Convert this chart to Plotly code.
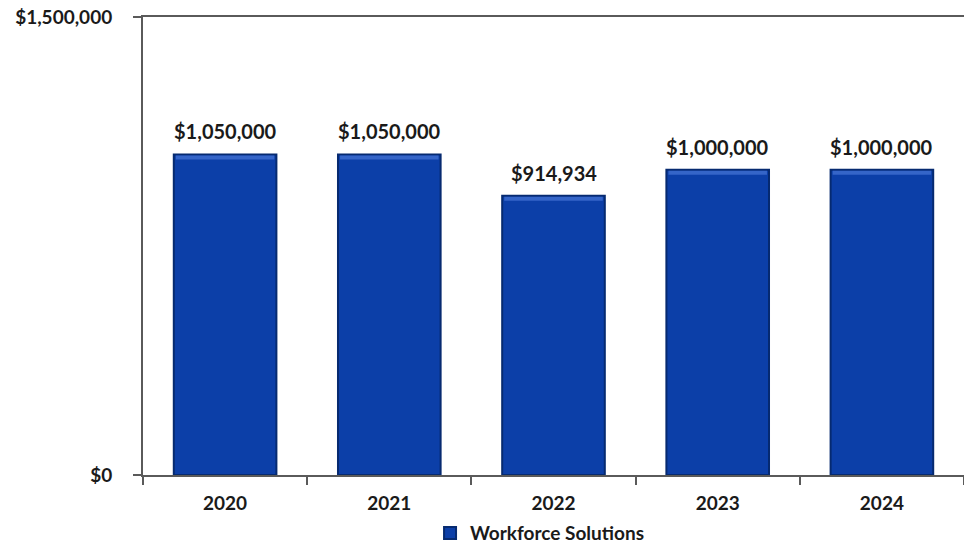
import plotly.graph_objects as go

years = ["2020", "2021", "2022", "2023", "2024"]
funding = [1050000, 1050000, 914934, 1000000, 1000000]
labels = ["$1,050,000", "$1,050,000", "$914,934", "$1,000,000", "$1,000,000"]
series_name = "Workforce Solutions"
ytick_vals = [0, 1500000]
ytick_text = ["$0", "$1,500,000"]

FONT = "Lato"
BEVEL = 13000  # styling: thickness of the lighter top band, in axis units

fig = go.Figure()
fig.add_trace(go.Bar(
    x=years, y=funding, name=series_name,
    marker=dict(color="#0C3FA8", line=dict(color="#062A70", width=2)),
    showlegend=True,
))
# lighter bevel band at the top of each bar
fig.add_trace(go.Bar(
    x=years, y=[BEVEL] * len(funding), base=[v - BEVEL * 1.3 for v in funding],
    marker=dict(color="#3565C8", line=dict(width=0)),
    showlegend=False, hoverinfo="skip", width=0.6,
))

for i, (v, t) in enumerate(zip(funding, labels)):
    fig.add_annotation(x=i, y=v, xref="x", yref="y", text=t, showarrow=False,
                       yanchor="bottom", yshift=9,
                       font=dict(family=FONT, size=20, color="#1a1a1a", weight="bold"))

fig.update_layout(
    width=964, height=545,
    margin=dict(l=143, r=0, t=17, b=70, autoexpand=False),
    paper_bgcolor="white", plot_bgcolor="white",
    bargap=0.375, barmode="overlay",
    font=dict(family=FONT, size=19, color="#1a1a1a", weight="bold"),
    showlegend=True,
    legend=dict(orientation="h", x=0.483, xanchor="center", y=-0.127, yanchor="middle",
                font=dict(family=FONT, size=19, color="#1a1a1a", weight="bold"),
                itemwidth=30, bgcolor="rgba(0,0,0,0)"),
    xaxis=dict(
        type="category", categoryorder="array", categoryarray=years,
        range=[-0.5, len(years) - 0.5],
        showline=True, linecolor="#5a5a5a", linewidth=2, mirror=True,
        ticks="outside", tickson="boundaries", ticklen=8, tickcolor="#5a5a5a", tickwidth=2,
        tickfont=dict(family=FONT, size=19, color="#1a1a1a", weight="bold"),
        ticklabelstandoff=10,
    ),
    yaxis=dict(
        range=[0, 1500000], tickvals=ytick_vals, ticktext=ytick_text,
        showline=True, linecolor="#5a5a5a", linewidth=2,
        ticks="outside", ticklen=8, tickcolor="#5a5a5a", tickwidth=2,
        showgrid=False, zeroline=False,
        tickfont=dict(family=FONT, size=19, color="#1a1a1a", weight="bold"),
        ticklabelstandoff=17,
    ),
)

fig.write_html("out.html")
